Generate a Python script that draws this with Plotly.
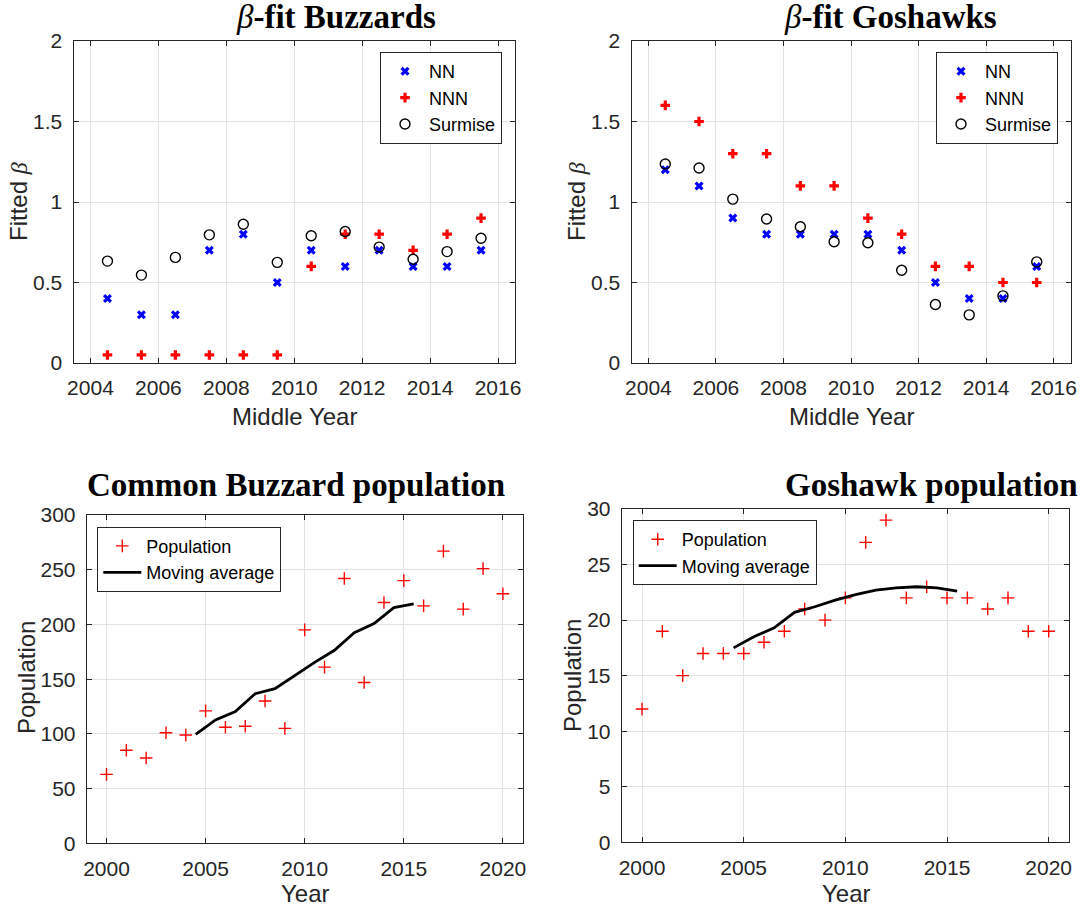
import plotly.graph_objects as go

W, H = 1083, 907

# ---------------- data ----------------
middle_years = [2004.5, 2005.5, 2006.5, 2007.5, 2008.5, 2009.5,
                2010.5, 2011.5, 2012.5, 2013.5, 2014.5, 2015.5]

buz_nn = [0.4, 0.3, 0.3, 0.7, 0.8, 0.5, 0.7, 0.6, 0.7, 0.6, 0.6, 0.7]
buz_nnn = [0.05, 0.05, 0.05, 0.05, 0.05, 0.05, 0.6, 0.8, 0.8, 0.7, 0.8, 0.9]
buz_surmise = [0.633, 0.546, 0.656, 0.796, 0.862, 0.625, 0.79, 0.817, 0.72, 0.644, 0.692, 0.775]

gos_nn = [1.2, 1.1, 0.9, 0.8, 0.8, 0.8, 0.8, 0.7, 0.5, 0.4, 0.4, 0.6]
gos_nnn = [1.6, 1.5, 1.3, 1.3, 1.1, 1.1, 0.9, 0.8, 0.6, 0.6, 0.5, 0.5]
gos_surmise = [1.236, 1.211, 1.018, 0.894, 0.846, 0.753, 0.747, 0.576, 0.363, 0.299, 0.417, 0.628]

years = list(range(2000, 2021))
buz_pop = [63, 85, 78, 101, 99, 121, 106, 107, 130, 105, 195,
           161, 242, 147, 220, 240, 217, 267, 214, 251, 228]
gos_pop = [12, 19, 15, 17, 17, 17, 18, 19, 21, 20, 22,
           27, 29, 22, 23, 22, 22, 21, 22, 19, 19]

ma_years = middle_years
buz_ma = [99.5, 112.7, 120.3, 136.7, 141.3, 153.4, 165.3, 176.4, 192.4, 200.8, 215.4, 218.7]
gos_ma = [17.5, 18.5, 19.3, 20.7, 21.2, 21.8, 22.3, 22.7, 22.9, 23.0, 22.9, 22.6]

# ---------------- helpers ----------------
def px_x(p):
    return p / W

def px_y(p):
    return 1 - p / H

AX_COLOR = "#262626"
GRID = "#e3e3e3"
TICK_FONT = dict(family="Liberation Sans, Arial, sans-serif", size=21, color=AX_COLOR)
LABEL_FONT = dict(family="Liberation Sans, Arial, sans-serif", size=24, color=AX_COLOR)
TITLE_FONT = dict(family="Liberation Serif, Times New Roman, serif", size=33, color="black")
LEG_FONT = dict(family="Liberation Sans, Arial, sans-serif", size=18, color="black")

def axis_common(**kw):
    d = dict(showline=True, linecolor=AX_COLOR, linewidth=1, mirror="ticks",
             ticks="inside", ticklen=5, tickwidth=1, tickcolor=AX_COLOR,
             showgrid=True, gridcolor=GRID, gridwidth=1, zeroline=False,
             tickfont=TICK_FONT, ticklabelstandoff=6, automargin=False)
    d.update(kw)
    return d

fig = go.Figure()

# ---- top-left: beta fit buzzards ----
fig.add_trace(go.Scatter(x=middle_years, y=buz_nn, mode="markers", name="NN",
                         marker=dict(symbol="x", size=8, color="blue", line=dict(width=0)),
                         xaxis="x", yaxis="y", legend="legend"))
fig.add_trace(go.Scatter(x=middle_years, y=buz_nnn, mode="markers", name="NNN",
                         marker=dict(symbol="cross", size=8, color="red", line=dict(width=0)),
                         xaxis="x", yaxis="y", legend="legend"))
fig.add_trace(go.Scatter(x=middle_years, y=buz_surmise, mode="markers", name="Surmise",
                         marker=dict(symbol="circle-open", size=10, color="black", line=dict(width=1.4)),
                         xaxis="x", yaxis="y", legend="legend"))

# ---- top-right: beta fit goshawks ----
fig.add_trace(go.Scatter(x=middle_years, y=gos_nn, mode="markers", name="NN",
                         marker=dict(symbol="x", size=8, color="blue", line=dict(width=0)),
                         xaxis="x2", yaxis="y2", legend="legend2"))
fig.add_trace(go.Scatter(x=middle_years, y=gos_nnn, mode="markers", name="NNN",
                         marker=dict(symbol="cross", size=8, color="red", line=dict(width=0)),
                         xaxis="x2", yaxis="y2", legend="legend2"))
fig.add_trace(go.Scatter(x=middle_years, y=gos_surmise, mode="markers", name="Surmise",
                         marker=dict(symbol="circle-open", size=10, color="black", line=dict(width=1.4)),
                         xaxis="x2", yaxis="y2", legend="legend2"))

# ---- bottom-left: buzzard population ----
fig.add_trace(go.Scatter(x=years, y=buz_pop, mode="markers", name="Population",
                         marker=dict(symbol="cross-thin", size=9, color="red", line=dict(width=1.4, color="red")),
                         xaxis="x3", yaxis="y3", legend="legend3"))
fig.add_trace(go.Scatter(x=ma_years, y=buz_ma, mode="lines", name="Moving average",
                         line=dict(color="black", width=2.8),
                         xaxis="x3", yaxis="y3", legend="legend3"))

# ---- bottom-right: goshawk population ----
fig.add_trace(go.Scatter(x=years, y=gos_pop, mode="markers", name="Population",
                         marker=dict(symbol="cross-thin", size=9, color="red", line=dict(width=1.4, color="red")),
                         xaxis="x4", yaxis="y4", legend="legend4"))
fig.add_trace(go.Scatter(x=ma_years, y=gos_ma, mode="lines", name="Moving average",
                         line=dict(color="black", width=2.8),
                         xaxis="x4", yaxis="y4", legend="legend4"))

# domains in pixels
TL = (73.5, 515, 41, 363)
TR = (631.5, 1070.5, 41, 363)
BL = (86.7, 522.7, 515, 843.3)
BR = (621.7, 1069, 509, 842.3)

def dom(b):
    x0, x1, y0, y1 = b
    return [px_x(x0), px_x(x1)], [px_y(y1), px_y(y0)]

dx, dy = dom(TL)
fig.update_layout(xaxis=axis_common(domain=dx, range=[2003.5, 2016.5], tickvals=list(range(2004, 2017, 2)), anchor="y"),
                  yaxis=axis_common(domain=dy, range=[0, 2], tickvals=[0, 0.5, 1, 1.5, 2], anchor="x"))
dx, dy = dom(TR)
fig.update_layout(xaxis2=axis_common(domain=dx, range=[2003.5, 2016.5], tickvals=list(range(2004, 2017, 2)), anchor="y2"),
                  yaxis2=axis_common(domain=dy, range=[0, 2], tickvals=[0, 0.5, 1, 1.5, 2], anchor="x2"))
dx, dy = dom(BL)
fig.update_layout(xaxis3=axis_common(domain=dx, range=[1999, 2021], tickvals=list(range(2000, 2021, 5)), anchor="y3"),
                  yaxis3=axis_common(domain=dy, range=[0, 300], tickvals=list(range(0, 301, 50)), anchor="x3"))
dx, dy = dom(BR)
fig.update_layout(xaxis4=axis_common(domain=dx, range=[1999, 2021], tickvals=list(range(2000, 2021, 5)), anchor="y4"),
                  yaxis4=axis_common(domain=dy, range=[0, 30], tickvals=list(range(0, 31, 5)), anchor="x4"))

def leg(x, y):
    return dict(x=px_x(x), y=px_y(y), xanchor="left", yanchor="top",
                bordercolor=AX_COLOR, borderwidth=1, bgcolor="white",
                font=LEG_FONT, tracegroupgap=0, itemwidth=38)

fig.update_layout(legend=leg(380, 52), legend2=leg(936, 52),
                  legend3=leg(97.3, 526.7), legend4=leg(632.7, 520))

annotations = []

def ann(text, x, y, font, angle=0):
    annotations.append(dict(text=text, x=px_x(x), y=px_y(y), xref="paper", yref="paper",
                            xanchor="center", yanchor="middle", showarrow=False,
                            font=font, textangle=angle))

# titles
ann("<i>β</i><b>-fit Buzzards</b>", 336, 17, TITLE_FONT)
ann("<i>β</i><b>-fit Goshawks</b>", 890, 17, TITLE_FONT)
ann("<b>Common Buzzard population</b>", 296, 485, TITLE_FONT)
ann("<b>Goshawk population</b>", 931, 485, TITLE_FONT)

# axis labels
beta = "<span style='font-family:Liberation Serif'><i>β</i></span>"
ann("Middle Year", 294, 416, LABEL_FONT)
ann("Middle Year", 851, 416, LABEL_FONT)
ann("Year", 305, 893, LABEL_FONT)
ann("Year", 846, 893, LABEL_FONT)
ann("Fitted " + beta, 19, 202, LABEL_FONT, -90)
ann("Fitted " + beta, 577, 202, LABEL_FONT, -90)
ann("Population", 26, 678, LABEL_FONT, -90)
ann("Population", 572, 676, LABEL_FONT, -90)

fig.update_layout(annotations=annotations, width=W, height=H, autosize=False,
                  margin=dict(l=0, r=0, t=0, b=0, autoexpand=False), plot_bgcolor="white",
                  paper_bgcolor="white", showlegend=True)

fig.write_html("out.html", config={"displayModeBar": False},
               post_script="document.body.style.margin='0';document.body.style.overflow='hidden';")
